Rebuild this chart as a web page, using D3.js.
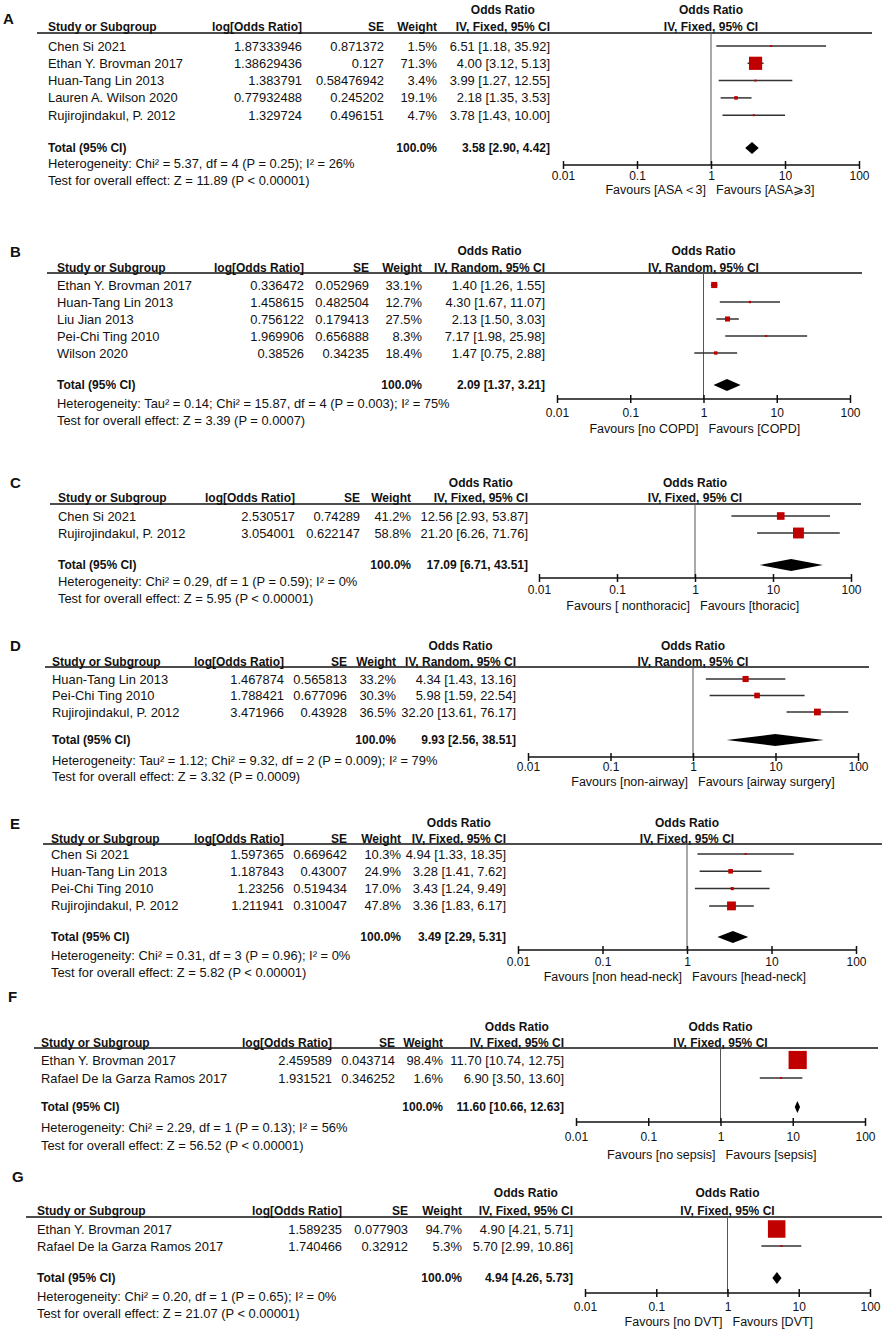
<!DOCTYPE html>
<html>
<head>
<meta charset="utf-8">
<script src="https://cdn.jsdelivr.net/npm/d3@7/dist/d3.min.js"></script>
<style>
  body { margin: 0; background: #fff; }
  text { font-family: Arial, "Liberation Sans", sans-serif; font-size: 12.9px; fill: #111; }
  .b { font-weight: bold; font-size: 12px; }
  .letter { font-size: 15px; font-weight: bold; }
  .tick text { font-size: 12px; }
  .fav { font-size: 12.5px; }
</style>
</head>
<body>
<div id="chart"></div>
<script>
// axis ticks shared by every panel
const tickValues = [0.01, 0.1, 1, 10, 100]
const tickLabels = ["0.01", "0.1", "1", "10", "100"]

// rows: study, log[OR] (as printed), SE (as printed), weight %, OR, lower, upper
const studiesA = [
  ["Chen Si 2021", "1.87333946", "0.871372", 1.5, 6.51, 1.18, 35.92],
  ["Ethan Y. Brovman 2017", "1.38629436", "0.127", 71.3, 4.00, 3.12, 5.13],
  ["Huan-Tang Lin 2013", "1.383791", "0.58476942", 3.4, 3.99, 1.27, 12.55],
  ["Lauren A. Wilson 2020", "0.77932488", "0.245202", 19.1, 2.18, 1.35, 3.53],
  ["Rujirojindakul, P. 2012", "1.329724", "0.496151", 4.7, 3.78, 1.43, 10.00],
]
const totalA = [3.58, 2.90, 4.42]

const studiesB = [
  ["Ethan Y. Brovman 2017", "0.336472", "0.052969", 33.1, 1.40, 1.26, 1.55],
  ["Huan-Tang Lin 2013", "1.458615", "0.482504", 12.7, 4.30, 1.67, 11.07],
  ["Liu Jian 2013", "0.756122", "0.179413", 27.5, 2.13, 1.50, 3.03],
  ["Pei-Chi Ting 2010", "1.969906", "0.656888", 8.3, 7.17, 1.98, 25.98],
  ["Wilson 2020", "0.38526", "0.34235", 18.4, 1.47, 0.75, 2.88],
]
const totalB = [2.09, 1.37, 3.21]

const studiesC = [
  ["Chen Si 2021", "2.530517", "0.74289", 41.2, 12.56, 2.93, 53.87],
  ["Rujirojindakul, P. 2012", "3.054001", "0.622147", 58.8, 21.20, 6.26, 71.76],
]
const totalC = [17.09, 6.71, 43.51]

const studiesD = [
  ["Huan-Tang Lin 2013", "1.467874", "0.565813", 33.2, 4.34, 1.43, 13.16],
  ["Pei-Chi Ting 2010", "1.788421", "0.677096", 30.3, 5.98, 1.59, 22.54],
  ["Rujirojindakul, P. 2012", "3.471966", "0.43928", 36.5, 32.20, 13.61, 76.17],
]
const totalD = [9.93, 2.56, 38.51]

const studiesE = [
  ["Chen Si 2021", "1.597365", "0.669642", 10.3, 4.94, 1.33, 18.35],
  ["Huan-Tang Lin 2013", "1.187843", "0.43007", 24.9, 3.28, 1.41, 7.62],
  ["Pei-Chi Ting 2010", "1.23256", "0.519434", 17.0, 3.43, 1.24, 9.49],
  ["Rujirojindakul, P. 2012", "1.211941", "0.310047", 47.8, 3.36, 1.83, 6.17],
]
const totalE = [3.49, 2.29, 5.31]

const studiesF = [
  ["Ethan Y. Brovman 2017", "2.459589", "0.043714", 98.4, 11.70, 10.74, 12.75],
  ["Rafael De la Garza Ramos 2017", "1.931521", "0.346252", 1.6, 6.90, 3.50, 13.60],
]
const totalF = [11.60, 10.66, 12.63]

const studiesG = [
  ["Ethan Y. Brovman 2017", "1.589235", "0.077903", 94.7, 4.90, 4.21, 5.71],
  ["Rafael De la Garza Ramos 2017", "1.740466", "0.32912", 5.3, 5.70, 2.99, 10.86],
]
const totalG = [4.94, 4.26, 5.73]

const letters = ["A", "B", "C", "D", "E", "F", "G"]
const methods = ["IV, Fixed, 95% CI", "IV, Random, 95% CI", "IV, Fixed, 95% CI", "IV, Random, 95% CI",
  "IV, Fixed, 95% CI", "IV, Fixed, 95% CI", "IV, Fixed, 95% CI"]
const hetTexts = [
  "Heterogeneity: Chi² = 5.37, df = 4 (P = 0.25); I² = 26%",
  "Heterogeneity: Tau² = 0.14; Chi² = 15.87, df = 4 (P = 0.003); I² = 75%",
  "Heterogeneity: Chi² = 0.29, df = 1 (P = 0.59); I² = 0%",
  "Heterogeneity: Tau² = 1.12; Chi² = 9.32, df = 2 (P = 0.009); I² = 79%",
  "Heterogeneity: Chi² = 0.31, df = 3 (P = 0.96); I² = 0%",
  "Heterogeneity: Chi² = 2.29, df = 1 (P = 0.13); I² = 56%",
  "Heterogeneity: Chi² = 0.20, df = 1 (P = 0.65); I² = 0%",
]
const testTexts = [
  "Test for overall effect: Z = 11.89 (P < 0.00001)",
  "Test for overall effect: Z = 3.39 (P = 0.0007)",
  "Test for overall effect: Z = 5.95 (P < 0.00001)",
  "Test for overall effect: Z = 3.32 (P = 0.0009)",
  "Test for overall effect: Z = 5.82 (P < 0.00001)",
  "Test for overall effect: Z = 56.52 (P < 0.00001)",
  "Test for overall effect: Z = 21.07 (P < 0.00001)",
]
const favoursLeft = ["Favours [ASA＜3]", "Favours [no COPD]", "Favours [ nonthoracic]", "Favours [non-airway]",
  "Favours [non head-neck]", "Favours [no sepsis]", "Favours [no DVT]"]
const favoursRight = ["Favours [ASA⩾3]", "Favours [COPD]", "Favours [thoracic]", "Favours [airway surgery]",
  "Favours [head-neck]", "Favours [sepsis]", "Favours [DVT]"]

const allStudies = [studiesA, studiesB, studiesC, studiesD, studiesE, studiesF, studiesG]
const allTotals = [totalA, totalB, totalC, totalD, totalE, totalF, totalG]

// page geometry of each panel (pixels)
const layouts = [
  { lx: 3, ly: 19, h1: 10, h2: 27, line: 33, l0: 37, l1: 872, r0: 46, step: 17.3, tot: 148, het: 163, test: 180,
    study: 48, lor: 302, se: 384, w: 437, ci: 550, x0: 563, x1: 859, axis: 165, lab: 176, fav: 190 },
  { lx: 10, ly: 252, h1: 251, h2: 268, line: 273, l0: 47, l1: 862, r0: 285, step: 17, tot: 385, het: 403, test: 420,
    study: 57, lor: 304, se: 369, w: 422, ci: 545, x0: 557, x1: 850, axis: 399, lab: 413, fav: 429 },
  { lx: 10, ly: 483, h1: 483, h2: 498, line: 504, l0: 50, l1: 861, r0: 516, step: 17, tot: 565, het: 581, test: 598,
    study: 58, lor: 295, se: 360, w: 411, ci: 528, x0: 539, x1: 851, axis: 578, lab: 590, fav: 606 },
  { lx: 10, ly: 646, h1: 646, h2: 662, line: 667, l0: 45, l1: 869, r0: 679, step: 16.5, tot: 740, het: 760, test: 776,
    study: 52, lor: 284, se: 347, w: 396, ci: 516, x0: 528, x1: 858, axis: 757, lab: 767, fav: 782 },
  { lx: 10, ly: 824, h1: 823, h2: 839, line: 844, l0: 43, l1: 882, r0: 854, step: 17.3, tot: 937, het: 955, test: 972,
    study: 51, lor: 284, se: 347, w: 401, ci: 506, x0: 518, x1: 856, axis: 950, lab: 962, fav: 977 },
  { lx: 8, ly: 997, h1: 1027, h2: 1043, line: 1048, l0: 34, l1: 878, r0: 1060, step: 18, tot: 1107, het: 1127, test: 1145,
    study: 41, lor: 332, se: 395, w: 443, ci: 564, x0: 576, x1: 865, axis: 1122, lab: 1137, fav: 1155 },
  { lx: 12, ly: 1177, h1: 1193, h2: 1211, line: 1217, l0: 26, l1: 882, r0: 1229, step: 17, tot: 1278, het: 1296, test: 1313,
    study: 37, lor: 342, se: 408, w: 462, ci: 573, x0: 585, x1: 870, axis: 1293, lab: 1307, fav: 1322 },
]

const svg = d3.select("#chart").append("svg").attr("width", 887).attr("height", 1339)

const fmt = d3.format(".2f")
const fmtW = d3.format(".1f")
const boxScale = d3.scaleLinear().domain([0, 100]).range([0, 18.5])

function label(g, x, y, s, anchor, cls) {
  return g.append("text")
    .attr("x", x).attr("y", y).attr("dy", "0.35em")
    .attr("text-anchor", anchor || "start")
    .attr("class", cls || null)
    .text(s)
}

allStudies.forEach((rows, p) => {
  const L = layouts[p]
  const tot = allTotals[p]
  const g = svg.append("g")
  const xScale = d3.scaleLog().domain([0.01, 100]).range([L.x0, L.x1])
  const rowY = i => L.r0 + i * L.step

  label(g, L.lx, L.ly, letters[p], "start", "letter")

  // header
  label(g, L.study, L.h2, "Study or Subgroup", "start", "b")
  label(g, L.lor, L.h2, "log[Odds Ratio]", "end", "b")
  label(g, L.se, L.h2, "SE", "end", "b")
  label(g, L.w, L.h2, "Weight", "end", "b")
  const iv = label(g, L.ci, L.h2, methods[p], "end", "b")
  const ivW = iv.node().getComputedTextLength()
  label(g, L.ci - ivW / 2, L.h1, "Odds Ratio", "middle", "b")
  label(g, xScale(1), L.h1, "Odds Ratio", "middle", "b")
  label(g, xScale(1), L.h2, methods[p], "middle", "b")

  g.append("line")
    .attr("x1", L.l0).attr("x2", L.l1)
    .attr("y1", L.line).attr("y2", L.line)
    .attr("stroke", "#111").attr("stroke-width", 1.6)

  // line of no effect
  g.append("line")
    .attr("x1", xScale(1)).attr("x2", xScale(1))
    .attr("y1", L.line).attr("y2", L.axis)
    .attr("stroke", "#555").attr("stroke-width", 1)

  // study rows
  rows.forEach((d, i) => {
    const y = rowY(i)
    label(g, L.study, y, d[0])
    label(g, L.lor, y, d[1], "end")
    label(g, L.se, y, d[2], "end")
    label(g, L.w, y, fmtW(d[3]) + "%", "end")
    label(g, L.ci, y, `${fmt(d[4])} [${fmt(d[5])}, ${fmt(d[6])}]`, "end")
  })

  g.append("g").selectAll("line")
    .data(rows)
    .join("line")
    .attr("x1", d => xScale(d[5]))
    .attr("x2", d => xScale(d[6]))
    .attr("y1", (d, i) => rowY(i))
    .attr("y2", (d, i) => rowY(i))
    .attr("stroke", "#333")
    .attr("stroke-width", 1.5)

  g.append("g").selectAll("rect")
    .data(rows)
    .join("rect")
    .attr("x", d => xScale(d[4]) - Math.max(2, boxScale(d[3])) / 2)
    .attr("y", (d, i) => rowY(i) - Math.max(2, boxScale(d[3])) / 2)
    .attr("width", d => Math.max(2, boxScale(d[3])))
    .attr("height", d => Math.max(2, boxScale(d[3])))
    .attr("fill", "#c00000")

  // total
  label(g, L.study, L.tot, "Total (95% CI)", "start", "b")
  label(g, L.w, L.tot, "100.0%", "end", "b")
  label(g, L.ci, L.tot, `${fmt(tot[0])} [${fmt(tot[1])}, ${fmt(tot[2])}]`, "end", "b")
  label(g, L.study, L.het, hetTexts[p])
  label(g, L.study, L.test, testTexts[p])

  const [m, lo, hi] = tot.map(xScale)
  g.append("path")
    .attr("d", `M${lo},${L.tot}L${m},${L.tot - 6}L${hi},${L.tot}L${m},${L.tot + 6}Z`)
    .attr("fill", "#000")

  // axis
  const axis = d3.axisBottom(xScale)
    .tickValues(tickValues)
    .tickFormat((d, i) => tickLabels[i])
    .tickSizeOuter(0)
    .tickSize(4)
  const ax = g.append("g")
    .attr("transform", `translate(0,${L.axis})`)
    .call(axis)
  ax.attr("font-size", null).attr("font-family", null)
  ax.select(".domain").attr("stroke", "#111").attr("stroke-width", 1.5)
    .attr("d", `M${L.x0},0H${L.x1}`)
  ax.selectAll(".tick line").attr("y1", -4).attr("y2", 4).attr("stroke", "#111").attr("stroke-width", 1.5)
  ax.selectAll(".tick text").attr("y", L.lab - L.axis).attr("dy", "0.35em")

  label(g, xScale(1) - 5, L.fav, favoursLeft[p], "end", "fav")
  label(g, xScale(1) + 5, L.fav, favoursRight[p], "start", "fav")
})
</script>
</body>
</html>
